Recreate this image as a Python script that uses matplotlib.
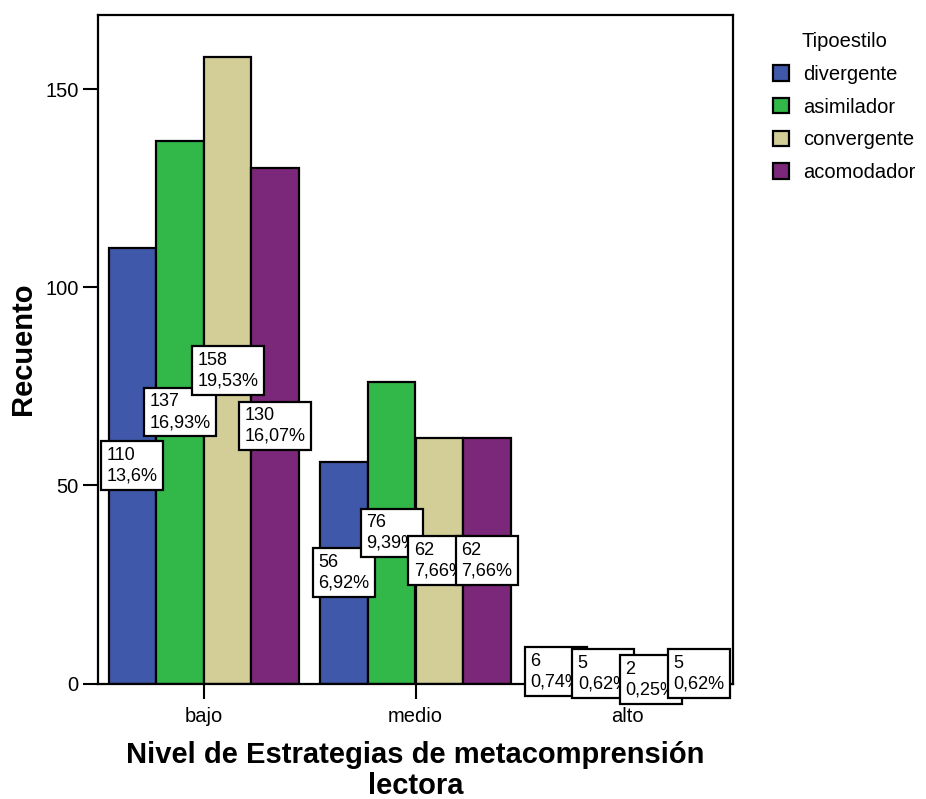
import numpy as np
import matplotlib
matplotlib.use("Agg")
import matplotlib.pyplot as plt
from matplotlib.patches import Patch

plt.rcParams["font.family"] = ["Liberation Sans", "DejaVu Sans"]

# counts per level (bajo, medio, alto) for each style
niveles = ["bajo", "medio", "alto"]
estilos = ["divergente", "asimilador", "convergente", "acomodador"]
divergente = [110, 56, 6]
asimilador = [137, 76, 5]
convergente = [158, 62, 2]
acomodador = [130, 62, 5]
pct_divergente = ["13,6%", "6,92%", "0,74%"]
pct_asimilador = ["16,93%", "9,39%", "0,62%"]
pct_convergente = ["19,53%", "7,66%", "0,25%"]
pct_acomodador = ["16,07%", "7,66%", "0,62%"]
colores = ["#3F58AA", "#32B848", "#D3CE98", "#7C287A"]

series = [divergente, asimilador, convergente, acomodador]
pcts = [pct_divergente, pct_asimilador, pct_convergente, pct_acomodador]

fig = plt.figure(figsize=(9.26, 7.99), dpi=100)
ax = fig.add_axes([98 / 926, 1 - 683.5 / 799, 635 / 926, 668.5 / 799])

x = np.arange(len(niveles))
w = 0.225
offsets = (np.arange(4) - 1.5) * w

for k in range(4):
    ax.bar(x + offsets[k], series[k], width=w, color=colores[k],
           edgecolor="black", linewidth=1.6, zorder=2)

# value boxes, drawn level by level so later ones sit on top
for i in range(len(niveles)):
    for k in range(4):
        v = series[k][i]
        ax.text(x[i] + offsets[k], v / 2, f"{v}\n{pcts[k][i]}",
                ha="center", va="center", multialignment="left",
                fontsize=13, linespacing=1.3, zorder=5, clip_on=False,
                bbox=dict(boxstyle="square,pad=0.3", facecolor="white",
                          edgecolor="black", linewidth=1.6))

ax.set_xlim(-0.5, 2.5)
ax.set_ylim(0, 168.7)
ax.set_xticks(x)
ax.set_xticklabels(niveles, fontsize=14.5)
ax.set_yticks([0, 50, 100, 150])
ax.set_yticklabels(["0", "50", "100", "150"], fontsize=14.5)
ax.tick_params(axis="both", direction="out", length=11, width=1.5, pad=3)
ax.tick_params(axis="x", pad=6)
for s in ax.spines.values():
    s.set_linewidth(1.6)

ax.set_xlabel("Nivel de Estrategias de metacomprensión\nlectora",
              fontsize=21, fontweight="bold", labelpad=11, linespacing=1.1)
ax.set_ylabel("Recuento", fontsize=21, fontweight="bold", labelpad=6)

handles = [Patch(facecolor=c, edgecolor="black", linewidth=1.6) for c in colores]
fig.legend(handles, estilos, title="Tipoestilo", loc="upper left",
           bbox_to_anchor=(755 / 926, 1 - 14 / 799), frameon=False,
           fontsize=14.5, title_fontsize=14.5, handlelength=0.8,
           handleheight=0.8, handletextpad=0.7, labelspacing=0.68)

fig.savefig("out.png", dpi=100)
